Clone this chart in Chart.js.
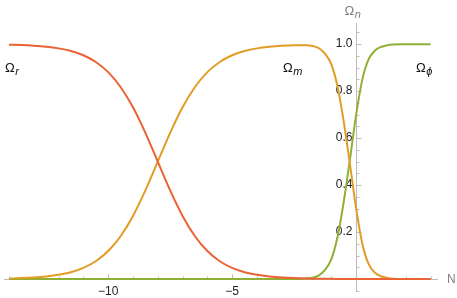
<!DOCTYPE html>
<html>
<head>
<meta charset="utf-8">
<script src="https://cdn.jsdelivr.net/npm/chart.js@4.4.1/dist/chart.umd.min.js"></script>
<style>
  html, body { margin: 0; padding: 0; background: #fff; }
  #wrap { width: 457px; height: 298px; }
</style>
</head>
<body>
<div id="wrap"><canvas id="graph"></canvas></div>
<script>
// e-folding number N
var n_values = [-14, -13.5, -13, -12.5, -12, -11.5, -11, -10.5, -10, -9.5, -9, -8.5, -8,
    -7.5, -7, -6.5, -6, -5.5, -5, -4.5, -4, -3.5, -3, -2.5, -2, -1.75, -1.5, -1.25,
    -1, -0.75, -0.5, -0.25, 0, 0.25, 0.5, 0.75, 1, 1.25, 1.5, 2, 2.5, 3];

var omega_r = [0.9975, 0.9959, 0.9933, 0.989, 0.982, 0.9707, 0.9526, 0.9241, 0.8808, 0.8176,
    0.7311, 0.6225, 0.5, 0.3775, 0.2689, 0.1824, 0.1192, 0.0759, 0.0474, 0.0293, 0.018,
    0.011, 0.0067, 0.0041, 0.0025, 0.0019, 0.0015, 0.0012, 0.0009, 0.0007, 0.0006, 0.0004,
    0.0003, 0.0003, 0.0002, 0.0002, 0.0001, 0.0001, 0.0001, 0, 0, 0];

var omega_m = [0.0025, 0.0041, 0.0067, 0.011, 0.018, 0.0293, 0.0474, 0.0759, 0.1192, 0.1824,
    0.2689, 0.3775, 0.5, 0.6225, 0.7311, 0.8176, 0.8808, 0.9241, 0.9526, 0.9707, 0.982,
    0.989, 0.9933, 0.9954, 0.9955, 0.9921, 0.9825, 0.9588, 0.9141, 0.8193, 0.6694, 0.4896,
    0.2997, 0.1497, 0.0648, 0.0278, 0.0119, 0.0049, 0.0019, 0.0005, 0, 0];

var omega_phi = [0, 0, 0, 0, 0, 0, 0, 0, 0, 0, 0, 0, 0, 0, 0, 0, 0, 0, 0, 0, 0, 0, 0,
    0.0005, 0.002, 0.006, 0.016, 0.04, 0.085, 0.18, 0.33, 0.51, 0.70, 0.85, 0.935, 0.972,
    0.988, 0.995, 0.998, 0.9995, 1, 1];

var x_tick_labels = [-10, -5];
var y_tick_labels = [0.2, 0.4, 0.6, 0.8, 1.0];
var series_names = ['r', 'm', '\u03d5'];

function to_points(ys){
    return n_values.map(function(n, i){ return {x: n, y: ys[i]}; });
}

function draw_omega(ctx, x, y, sub){
    ctx.font = '13px "Liberation Sans", Arial, sans-serif';
    ctx.textBaseline = 'alphabetic';
    ctx.textAlign = 'left';
    ctx.fillText('\u03a9', x, y);
    var w = ctx.measureText('\u03a9').width;
    ctx.font = 'italic 11px "Liberation Sans", Arial, sans-serif';
    ctx.fillText(sub, x + w + 0.5, y + 3);
}

var axes_plugin = {
    id: 'axes',
    beforeDatasetsDraw: function(chart){
        var ctx = chart.ctx, xs = chart.scales.x, ys = chart.scales.y;
        var x0 = Math.round(xs.getPixelForValue(0)) + 0.5;
        var y0 = Math.round(ys.getPixelForValue(0)) + 0.5;
        ctx.save();
        ctx.strokeStyle = '#bdbdbd';
        ctx.lineWidth = 1;
        ctx.beginPath();
        ctx.moveTo(xs.left, y0); ctx.lineTo(xs.right, y0);
        ctx.moveTo(x0, ys.top); ctx.lineTo(x0, ys.bottom);
        // x ticks, minor every 1
        for (var v = -14; v <= 3; v++){
            if (v == 0) continue;
            var px = Math.round(xs.getPixelForValue(v)) + 0.5;
            var len = (v % 5 == 0) ? 5 : 3;
            ctx.moveTo(px, y0); ctx.lineTo(px, y0 - len);
        }
        // y ticks, minor every 0.05
        for (var k = -1; k <= 21; k++){
            if (k == 0) continue;
            var py = Math.round(ys.getPixelForValue(k * 0.05)) + 0.5;
            var ylen = (k % 4 == 0) ? 5 : 3;
            ctx.moveTo(x0, py); ctx.lineTo(x0 + ylen, py);
        }
        ctx.stroke();

        ctx.fillStyle = '#222';
        ctx.font = '12px "Liberation Sans", Arial, sans-serif';
        ctx.textAlign = 'center';
        ctx.textBaseline = 'middle';
        x_tick_labels.forEach(function(t){
            ctx.fillText('\u2212' + Math.abs(t), xs.getPixelForValue(t), y0 + 12);
        });
        ctx.textAlign = 'right';
        y_tick_labels.forEach(function(t){
            ctx.fillText(t.toFixed(1), x0 - 4, ys.getPixelForValue(t));
        });

        // axis labels
        ctx.fillStyle = '#808080';
        ctx.textAlign = 'left';
        ctx.fillText('N', xs.right + 9, y0);
        ctx.font = '13px "Liberation Sans", Arial, sans-serif';
        ctx.textBaseline = 'alphabetic';
        ctx.fillText('\u03a9', x0 - 12, 15);
        var w = ctx.measureText('\u03a9').width;
        ctx.font = 'italic 11px "Liberation Sans", Arial, sans-serif';
        ctx.fillText('n', x0 - 12 + w + 0.5, 18);
        ctx.restore();
    },
    afterDatasetsDraw: function(chart){
        var ctx = chart.ctx;
        ctx.save();
        ctx.fillStyle = '#111';
        draw_omega(ctx, 5, 72, series_names[0]);
        draw_omega(ctx, 283, 72, series_names[1]);
        draw_omega(ctx, 416, 72, series_names[2]);
        ctx.restore();
    }
};

var chart_context = document.getElementById('graph').getContext('2d');
var chart = new Chart(chart_context, {
    type: 'line',
    data: {
        datasets: [{
            data: to_points(omega_r),
            borderColor: '#eb6235',
        }, {
            data: to_points(omega_m),
            borderColor: '#e19c24',
        }, {
            data: to_points(omega_phi),
            borderColor: '#8fb032',
        }]
    },
    options: {
        responsive: true,
        maintainAspectRatio: false,
        animation: false,
        layout: {padding: {left: 4, right: 19, top: 23, bottom: 6}},
        elements: {
            point: {radius: 0},
            line: {borderWidth: 2, cubicInterpolationMode: 'monotone', fill: false}
        },
        plugins: {legend: {display: false}, tooltip: {enabled: false}},
        scales: {
            x: {type: 'linear', min: -14.2, max: 3.3, display: false},
            y: {type: 'linear', min: -0.055, max: 1.09, display: false}
        }
    },
    plugins: [axes_plugin]
});
</script>
</body>
</html>
